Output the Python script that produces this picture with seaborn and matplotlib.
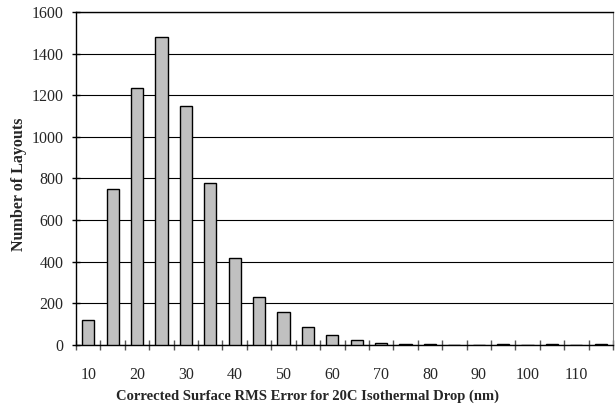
# histogram of corrected surface RMS error

import numpy as np
import matplotlib
matplotlib.use('Agg')
import matplotlib.pyplot as plt
import seaborn as sns

# bin centres (nm) and counts
bins = [10, 15, 20, 25, 30, 35, 40, 45, 50, 55, 60, 65, 70, 75, 80, 85, 90, 95, 100, 105, 110, 115]
counts = [120, 750, 1235, 1480, 1150, 780, 420, 230, 160, 85, 50, 25, 12, 5, 5, 0, 0, 5, 0, 5, 0, 5]
yticks = [0, 200, 400, 600, 800, 1000, 1200, 1400, 1600]

sns.set_style('white')
plt.rcParams['font.family'] = ['Liberation Serif', 'DejaVu Serif']

fig = plt.figure(figsize=(6.15, 4.11), dpi=100)
ax = fig.add_axes([76 / 615, 66 / 411, 537 / 615, 333 / 411])

labels = [str(b) for b in bins]
sns.barplot(x=labels, y=counts, color='#C0C0C0', edgecolor='black',
            linewidth=1, width=0.5, saturation=1, ax=ax, zorder=3)

ax.set_ylim(0, 1600)
ax.set_xlim(-0.5, len(bins) - 0.5)
ax.set_yticks(yticks)
ax.set_yticklabels([str(v) for v in yticks], fontsize=11.5)
ax.yaxis.grid(True, color='black', linewidth=0.8, zorder=0)
ax.tick_params(axis='y', direction='inout', length=6, width=1, color='black', left=True, pad=6)

# labels on every other bin, tick marks between the bins
ax.set_xticks(np.arange(0, len(bins), 2))
ax.set_xticklabels(labels[::2], fontsize=11.5)
ax.set_xticks(np.arange(-0.5, len(bins), 1), minor=True)
ax.tick_params(axis='x', which='major', length=0, pad=16)
ax.tick_params(axis='x', which='minor', direction='inout', length=7, width=1, color='#555555', bottom=True)

for side in ['left', 'bottom', 'top']:
    ax.spines[side].set_color('black')
    ax.spines[side].set_linewidth(1)
ax.spines['right'].set_color('#808080')

ax.set_xlabel('Corrected Surface RMS Error for 20C Isothermal Drop (nm)', fontsize=10.5, fontweight='bold')
ax.set_ylabel('Number of Layouts', fontsize=11.5, fontweight='bold')
# the titles sit centred on the figure rather than on the plot area
ax.xaxis.set_label_coords((307.5 - 76) / 537, -(390 - 345) / 333)
ax.yaxis.set_label_coords(-(76 - 27) / 537, (345 - 184) / 333)

plt.savefig('out.png', dpi=100)
